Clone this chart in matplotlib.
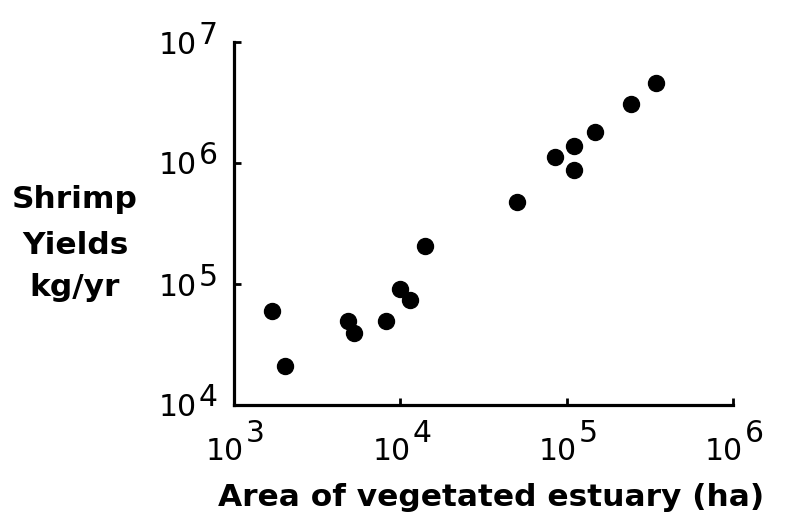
import matplotlib
matplotlib.use("Agg")
import matplotlib.pyplot as plt
from matplotlib.transforms import blended_transform_factory, ScaledTranslation

# Vegetated estuary area (ha) vs. shrimp yield (kg/yr)
area_ha = [1700, 2030, 4850, 5300, 8200, 10000, 11500, 14000,
           50000, 85000, 110000, 110000, 148000, 243000, 345000]
yield_kg = [6.0e4, 2.1e4, 4.9e4, 3.9e4, 4.9e4, 9.1e4, 7.4e4, 2.05e5,
            4.8e5, 1.12e6, 1.38e6, 8.8e5, 1.8e6, 3.1e6, 4.6e6]

x_exponents = [3, 4, 5, 6]
y_exponents = [4, 5, 6, 7]

fig = plt.figure(figsize=(8.04, 5.23), dpi=100)
ax = fig.add_axes([234 / 804, 1 - 405 / 523, 499 / 804, 363 / 523])

ax.scatter(area_ha, yield_kg, s=11.5 ** 2, color="black", zorder=3,
           clip_on=False)

ax.set_xscale("log")
ax.set_yscale("log")
ax.set_xlim(10 ** x_exponents[0], 10 ** x_exponents[-1])
ax.set_ylim(10 ** y_exponents[0], 10 ** y_exponents[-1])

for side in ("top", "right"):
    ax.spines[side].set_visible(False)
for side in ("left", "bottom"):
    ax.spines[side].set_linewidth(2.3)
    ax.spines[side].set_color("black")

ax.set_xticks([10 ** e for e in x_exponents])
ax.set_yticks([10 ** e for e in y_exponents])
ax.minorticks_off()
ax.tick_params(axis="both", which="major", direction="in", length=5,
               width=2, color="black", labelbottom=False, labelleft=False)

tick_font = dict(family="DejaVu Sans", fontsize=21.5, color="black")


def shift(dx_px, dy_px):
    """Offset in pixels (figure is drawn at 100 dpi)."""
    return ScaledTranslation(dx_px / 100, dy_px / 100, fig.dpi_scale_trans)


# x tick labels: "10" followed by a raised exponent
tx = blended_transform_factory(ax.transData, ax.transAxes)
for e in x_exponents:
    ax.text(10 ** e, 0, "10", transform=tx + shift(10, -46),
            ha="right", va="center", **tick_font)
    ax.text(10 ** e, 0, str(e), transform=tx + shift(12, -29),
            ha="left", va="center", **tick_font)

# y tick labels
ty = blended_transform_factory(ax.transAxes, ax.transData)
for e in y_exponents:
    ax.text(0, 10 ** e, "10", transform=ty + shift(-37, -3),
            ha="right", va="center", **tick_font)
    ax.text(0, 10 ** e, str(e), transform=ty + shift(-35, 7),
            ha="left", va="center", **tick_font)

label_font = dict(family="DejaVu Sans", fontweight="bold", fontsize=22.5,
                  color="black")
for text, y in (("Shrimp", 200), ("Yields", 245), ("kg/yr", 287)):
    fig.text(75 / 804, 1 - y / 523, text, ha="center", va="center",
             **label_font)

fig.text(218 / 804, 1 - 497 / 523, "Area of vegetated estuary (ha)",
         ha="left", va="center", **label_font)

fig.savefig("out.png", dpi=100, facecolor="white")
